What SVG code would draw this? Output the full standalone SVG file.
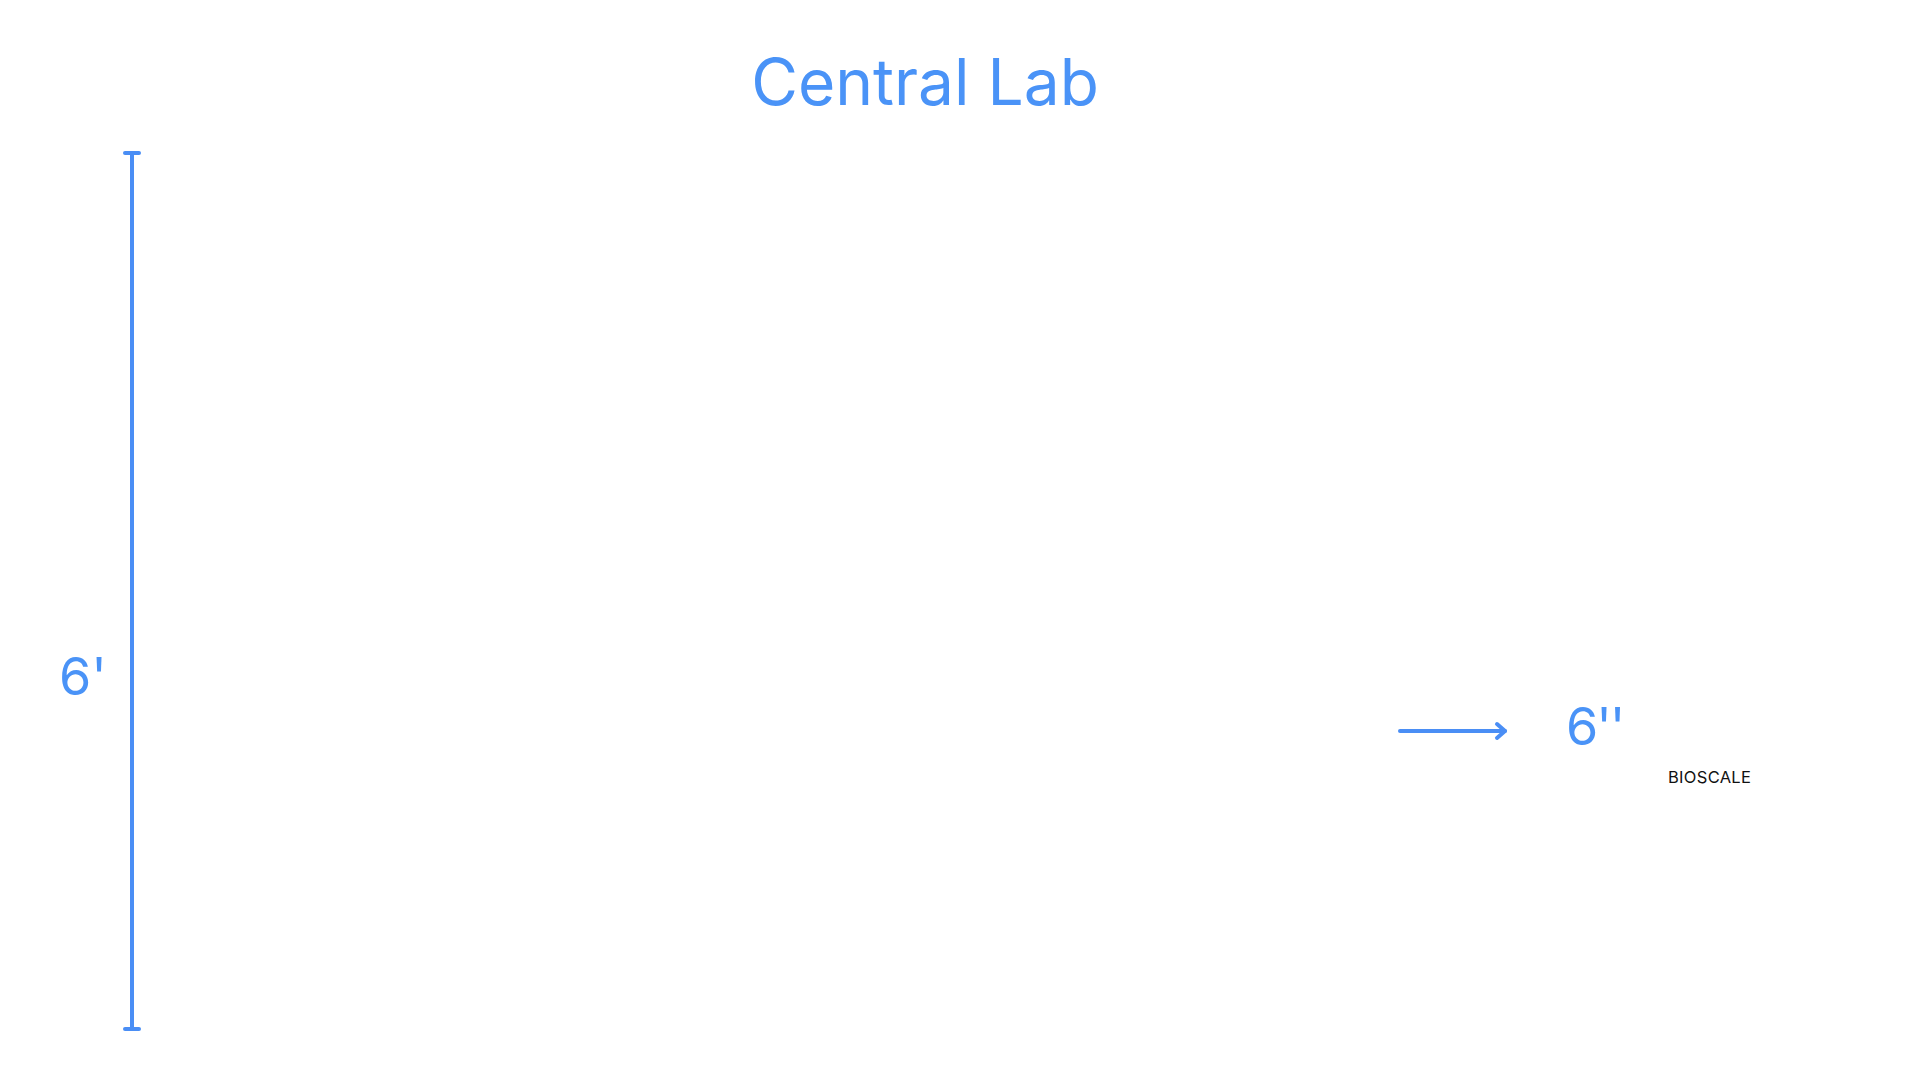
<svg xmlns="http://www.w3.org/2000/svg" width="1920" height="1080" viewBox="0 0 1920 1080">
<style>
.blue{fill:#4A93F7;font-family:Inter,"Noto Sans",sans-serif}
.ln{stroke:#4A8EF5;stroke-width:4;fill:none;stroke-linecap:round;stroke-linejoin:round}
</style>
<rect width="1920" height="1080" fill="#fff"/>
<g id="title"><text class="blue" x="925" y="105" font-size="64" text-anchor="middle">Central Lab</text></g>
<g id="connectors">
<line class="ln" x1="132" y1="153" x2="132" y2="1029"/>
<line class="ln" x1="125" y1="153" x2="139" y2="153"/>
<line class="ln" x1="125" y1="1029" x2="139" y2="1029"/>
<line class="ln" x1="1400" y1="731" x2="1505" y2="731"/>
<polyline class="ln" points="1497,724 1505,731 1497,738"/>
</g>
<g id="height-label"><text class="blue" x="59" y="695" font-size="52">6'</text></g>
<g id="size-label"><text class="blue" x="1566" y="745" font-size="52" letter-spacing="-2">6''</text></g>
<g id="bioscale"><text x="1668" y="783" font-size="16.5" letter-spacing="0.3" fill="#111" font-family="Inter,'Noto Sans',sans-serif">BIOSCALE</text></g>
</svg>
